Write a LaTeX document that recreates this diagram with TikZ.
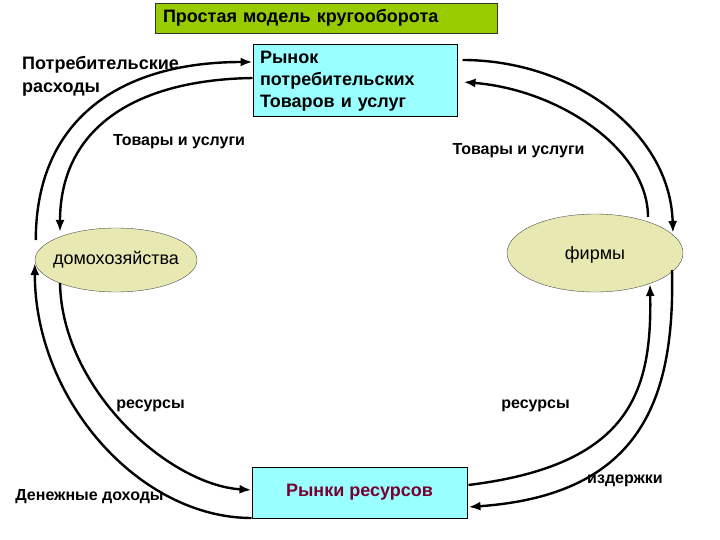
\documentclass[tikz,border=0pt]{standalone}
\usepackage{fontspec}
\setmainfont{Liberation Sans}
\usetikzlibrary{arrows.meta,shapes.geometric}
\definecolor{titlegreen}{RGB}{153,204,0}
\definecolor{boxcyan}{RGB}{153,255,255}
\definecolor{ellfill}{RGB}{232,232,178}
\definecolor{darkred}{RGB}{120,0,50}
\tikzset{
  flow/.style={line width=2.4pt,-{Latex[length=12pt,width=9pt]}},
  lbl/.style={font=\bfseries\fontsize{16}{18}\selectfont,inner sep=0pt},
  ell/.style={ellipse,draw=black!70,thin,fill=ellfill,font=\fontsize{18}{20}\selectfont,inner sep=0pt},
  cbox/.style={draw=black,line width=1pt,fill=boxcyan}
}
\begin{document}
\begin{tikzpicture}[x=1pt,y=-1pt]
\useasboundingbox (0,0) rectangle (720,540);
% title
\node[draw=black!80,thin,fill=titlegreen,text width=326pt,align=left,inner xsep=8pt,
  minimum height=30pt,font=\bfseries\fontsize{18}{20}\selectfont] (title) at (326,18) {Простая модель кругооборота};
% markets
\node[cbox,text width=190pt,align=left,inner xsep=7pt,minimum height=72pt,
  font=\bfseries\fontsize{18}{22}\selectfont] (mk) at (355,81) {Рынок\\потребительских\\Товаров и услуг};
\node[cbox,minimum width=215pt,minimum height=51pt,text=darkred,
  font=\bfseries\fontsize{18}{20}\selectfont] (rk) at (359.5,492.5) {Рынки ресурсов};
% agents
\node[ell,minimum width=162pt,minimum height=64pt] (hh) at (116,260) {\makebox[0pt]{домохозяйства}};
\node[ell,minimum width=176pt,minimum height=78pt] (ff) at (595,253) {\makebox[0pt]{\raisebox{-6pt}[0pt][0pt]{фирмы}}};
% labels
\node[lbl,font=\bfseries\fontsize{18}{23}\selectfont,align=left,anchor=base west] (spend) at (22,93) {Потребительские\\расходы};
\node[lbl] (g1) at (179,142) {Товары и услуги};
\node[lbl] (g2) at (518.5,151) {Товары и услуги};
\node[lbl] (r1) at (150.5,406) {ресурсы};
\node[lbl] (r2) at (535.5,406) {ресурсы};
\node[lbl] (inc) at (89.5,497) {Денежные доходы};
\node[lbl] (cost) at (625,481) {издержки};
% flows
\draw[flow] ([shift={(1,-20)}]hh.west) .. controls +(0,-120) and +(-133,0) .. ([shift={(0,-19)}]mk.west);
\draw[flow] ([shift={(0,-3)}]mk.west) .. controls +(-123,2) and +(0,-100) .. ([shift={(-56,-28)}]hh.center);
\draw[flow] ([shift={(5,-21)}]mk.east) .. controls +(108,0) and +(-3,-103) .. ([shift={(78,-20)}]ff.center);
\draw[flow] ([shift={(53,-36)}]ff.center) .. controls +(0,-67) and +(97,8) .. ([shift={(6,1)}]mk.east);
\draw[flow] ([shift={(1,-7.5)}]rk.east) .. controls +(162,-20) and +(2,108) .. ([shift={(55,31)}]ff.center);
\draw[flow] ([shift={(77,17)}]ff.center) .. controls +(3,130) and +(172,-12) .. ([shift={(1,14.5)}]rk.east);
\draw[flow] ([shift={(-56,23)}]hh.center) .. controls +(2,107) and +(-82,-5) .. ([shift={(0,-2.5)}]rk.west);
\draw[flow] ([shift={(0,25.5)}]rk.west) .. controls +(-112,0) and +(0,137) .. ([shift={(0,3)}]hh.west);
\end{tikzpicture}
\end{document}
